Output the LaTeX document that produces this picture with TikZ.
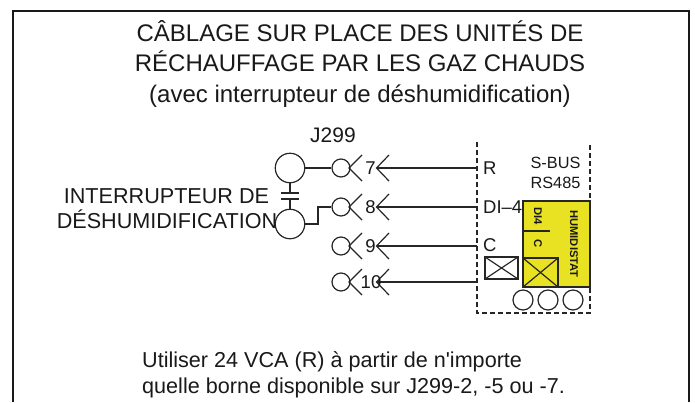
\documentclass[tikz,border=0pt]{standalone}
\usepackage{fontspec}
\setmainfont{Liberation Sans}
\newfontfamily\plainfont{Liberation Sans}
\definecolor{humy}{RGB}{232,226,34}
\tikzset{x=1pt,y=-1pt,
 wire/.style={draw=black!85,line width=1.2pt},
 bigc/.style={circle,draw=black!85,line width=1.2pt,minimum size=29.5pt,inner sep=0pt},
 smallc/.style={circle,draw=black!85,line width=1.2pt,minimum size=18pt,inner sep=0pt},
 lowc/.style={circle,draw=black!85,line width=1.2pt,minimum size=20pt,inner sep=0pt},
 txt/.style={inner sep=0pt,text=black!90,align=center},
 ttl/.style={txt,anchor=base,font=\fontsize{24}{29}\selectfont},
 lab/.style={txt,font=\fontsize{21}{25}\selectfont},
 intrlab/.style={txt,anchor=base,font=\fontsize{21.6}{25}\selectfont},
 note/.style={txt,anchor=base west,font=\plainfont\fontsize{21.6}{26}\selectfont},
 term/.style={txt,font=\fontsize{18.5}{22}\selectfont},
 tinylab/.style={txt,font=\fontsize{11.2}{13}\bfseries\selectfont,rotate=-90},
 dashline/.style={draw=black!85,line width=1.2pt,dash pattern=on 5pt off 3pt}}
\begin{document}
\begin{tikzpicture}
\useasboundingbox (0,0) rectangle (695,402);
\draw[black!90,line width=2.6pt] (13,402) -- (13,11) -- (689,11) -- (689,402);
\node[ttl] (t1) at (360,41.7) {CÂBLAGE SUR PLACE DES UNITÉS DE};
\node[ttl] (t2) at (360,71.7) {RÉCHAUFFAGE PAR LES GAZ CHAUDS};
\node[ttl] (t3) at (360,102) {(avec interrupteur de déshumidification)};
\node[lab] (j299) at (333,135) {J299};
\node[intrlab] (i1) at (166.5,203) {INTERRUPTEUR DE};
\node[intrlab] (i2) at (167,228) {DÉSHUMIDIFICATION};
\node[note] (note1) at (142,367) {Utiliser 24 VCA (R) à partir de n'importe};
\node[note] (note2) at (142,393) {quelle borne disponible sur J299-2, -5 ou -7.};
% switch
\node[bigc] (top) at (290,168) {};
\node[bigc] (bot) at (290,224) {};
\coordinate (c1) at (290,193); \coordinate (c2) at (290,199);
\draw[wire] (top) -- (c1);
\draw[wire] (c2) -- (bot);
\draw[wire] (281,193) -- (299,193);
\draw[wire] (281,199) -- (299,199);
% terminals
\node[smallc] (s7) at (341,168) {};
\node[smallc] (s8) at (341,207) {};
\node[smallc] (s9) at (341,246) {};
\node[smallc] (s10) at (341,282) {};
\draw[wire] (top) -- (s7);
\draw[wire] (bot.east) -- (318,224) -- (318,207) -- (s8.west);
\foreach \y/\n in {168/s7,207/s8,246/s9,282/s10}{
  \draw[wire] (362,\y-13) -- (349,\y) -- (362,\y+13);
  \draw[wire] (389,\y-13) -- (376.5,\y) -- (389,\y+13);
  \coordinate (e\n) at (477,\y);
  \coordinate (t\n) at (376.5,\y);
  \draw[wire] (e\n) -- (t\n);
}
\node[term] (n7) at (370.5,168.5) {7};
\node[term] (n8) at (370.5,207) {8};
\node[term] (n9) at (370.5,246) {9};
\node[term] (n10) at (371,282) {10};
% dashed enclosure
\draw[dashline] (477,142) -- (477,313) -- (590,313) -- (590,288);
\draw[dashline] (590,145) -- (590,200);
\node[term,anchor=west] (r) at (483,168.5) {R};
\node[term,anchor=west] (di) at (483,207) {DI–4};
\node[term,anchor=west] (c) at (483,245) {C};
\node[txt,font=\fontsize{16.3}{20}\selectfont] (sbus) at (555.5,173) {S-BUS\\RS485};
% humidistat
\draw[black!85,line width=1.2pt,fill=humy] (523,201) rectangle (590,287);
\draw[wire] (523,231) -- (550,231);
\draw[wire] (523,258) rectangle (558,287);
\draw[wire] (523,258) -- (558,287);
\draw[wire] (523,287) -- (558,258);
\node[tinylab] (d4) at (538,216) {DI4};
\node[tinylab] (cc) at (538,244) {C};
\node[tinylab] (hum) at (574,244) {HUMIDISTAT};
\draw[wire] (485,257) rectangle (518,279);
\draw[wire] (485,257) -- (518,279);
\draw[wire] (485,279) -- (518,257);
\node[lowc] (l1) at (523,300) {};
\node[lowc] (l2) at (548,300) {};
\node[lowc] (l3) at (573,300) {};
\end{tikzpicture}
\end{document}
